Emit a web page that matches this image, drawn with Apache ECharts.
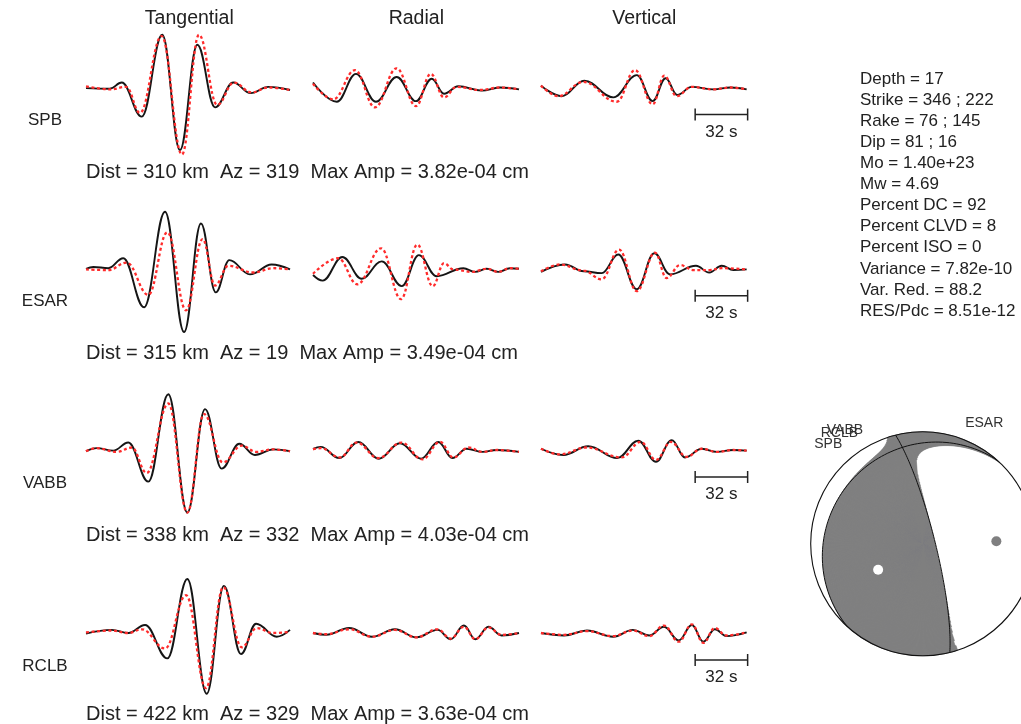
<!DOCTYPE html>
<html>
<head>
<meta charset="utf-8">
<script src="https://cdn.jsdelivr.net/npm/echarts@6/dist/echarts.min.js"></script>
<style>
  html, body { margin: 0; padding: 0; background: #fff; }
  #chart { width: 1021px; height: 724px; }
</style>
</head>
<body>
<div id="chart"></div>
<script>
// ---------------------------------------------------------------------------
// Station metadata
const components = ['Tangential', 'Radial', 'Vertical'];
const stations = ['SPB', 'ESAR', 'VABB', 'RCLB'];
const distKm = [310, 315, 338, 422];
const azimuthDeg = [319, 19, 332, 329];
const maxAmp = ['3.82e-04', '3.49e-04', '4.03e-04', '3.63e-04'];
const scaleBarSeconds = 32;

// Waveform extrema: [time (s), amplitude / station max amplitude]
// "Obs" = recorded data, "Syn" = synthetic from the inverted mechanism
const spbTanObs = [[0,-0.01],[14.5,-0.02],[21.8,0.08],[34,-0.47],[46.5,0.85],[57.3,-1.01],[67.9,0.69],[78.7,-0.32],[89.8,0.08],[100.4,-0.09],[111.2,0.01],[124.4,-0.04]];
const spbTanSyn = [[0,0.02],[15,-0.03],[24.5,0.01],[32.9,-0.41],[46.1,0.83],[58.5,-1.08],[68.9,0.85],[80,-0.28],[90.2,0.08],[101,-0.08],[111,0.0],[124.4,-0.04]];
const spbRadObs = [[0,0.08],[14.5,-0.23],[26.2,0.22],[38.4,-0.23],[51,0.17],[62.8,-0.22],[72.4,0.14],[79.9,-0.10],[88.6,0.02],[102.9,-0.05],[114,0.0],[125.6,-0.03]];
const spbRadSyn = [[0,0.06],[12.4,-0.19],[25.6,0.28],[37.8,-0.32],[51,0.31],[62.8,-0.30],[71.8,0.22],[79.9,-0.16],[87.6,0.01],[101.8,-0.04],[114,0.0],[125.6,-0.03]];
const spbVerObs = [[0,0.03],[12.6,-0.14],[26.4,0.11],[44.1,-0.16],[58.4,0.20],[68.1,-0.22],[76,0.15],[83.1,-0.12],[91.9,0.01],[105.1,-0.03],[115.7,0.0],[125.4,-0.03]];
const spbVerSyn = [[0,0.03],[10.6,-0.14],[25.8,0.09],[46.2,-0.23],[57.3,0.28],[68.1,-0.27],[75.2,0.19],[82.7,-0.14],[91.9,0.01],[105.1,-0.03],[115.7,0.0],[125.4,-0.03]];

const esarTanObs = [[0,0.0],[4.5,0.03],[13.6,0.01],[22.7,0.17],[35.4,-0.62],[48.2,0.92],[59.8,-1.02],[70.1,0.73],[79.1,-0.38],[87.4,0.14],[100,-0.09],[113.2,0.07],[124.4,-0.01]];
const esarTanSyn = [[0,-0.01],[13.6,-0.02],[24.8,0.10],[38,-0.42],[49.6,0.59],[61,-0.67],[71.1,0.48],[78.7,-0.27],[86.8,0.05],[102,-0.06],[114.2,0.01],[124.4,-0.01]];
const esarRadObs = [[0,-0.10],[5.9,-0.19],[17.9,0.19],[29.7,-0.16],[41.9,0.12],[54.1,-0.28],[64.6,0.22],[75.4,-0.12],[91.7,0.01],[98.8,-0.05],[105.9,0.0],[113,-0.05],[120.1,0.01],[125.6,0.0]];
const esarRadSyn = [[0,-0.08],[15.4,0.17],[27,-0.25],[41.5,0.33],[53.7,-0.49],[63.6,0.39],[73,-0.28],[79.9,0.09],[85.6,-0.01],[96.8,-0.05],[105.9,0.0],[113,-0.05],[120.1,0.01],[125.6,0.0]];
const esarVerObs = [[0,-0.05],[14.6,0.07],[26,-0.04],[37,-0.07],[47.1,0.23],[58.4,-0.33],[69.1,0.25],[78.7,-0.09],[94.5,0.05],[102.6,-0.06],[110.2,0.05],[117.3,-0.02],[125.4,-0.01]];
const esarVerSyn = [[0,-0.04],[11.6,0.07],[26,-0.03],[37,-0.17],[47.6,0.31],[58.4,-0.36],[69.5,0.26],[76.6,-0.15],[84.8,0.06],[93,-0.02],[102.6,-0.02],[110.2,0.01],[125.4,-0.01]];

const vabbTanObs = [[0,-0.02],[6.5,0.03],[16.6,-0.01],[25.8,0.12],[38,-0.51],[50.2,0.90],[61.8,-1.01],[72.6,0.66],[82.7,-0.30],[93.5,0.10],[103,-0.08],[114.2,0.01],[124.4,-0.02]];
const vabbTanSyn = [[0,-0.02],[6.5,0.03],[18.7,-0.03],[27.9,0.04],[37,-0.37],[50.2,0.75],[61.8,-1.01],[72,0.58],[83.4,-0.20],[95,0.07],[103.8,-0.03],[114.2,0.01],[124.4,-0.02]];
const vabbRadObs = [[0,0.02],[4.7,0.05],[16,-0.13],[27.6,0.13],[40.2,-0.14],[53,0.11],[65.9,-0.14],[76.4,0.13],[85,-0.13],[93.7,0.02],[103.5,-0.03],[112,0.0],[125.6,-0.03]];
const vabbRadSyn = [[0,0.01],[4.7,0.03],[16.4,-0.12],[26.6,0.12],[39.8,-0.13],[53.9,0.12],[66.7,-0.15],[77.4,0.13],[85.6,-0.12],[94.7,0.04],[103.5,-0.03],[112,0.0],[125.6,-0.03]];
const vabbVerObs = [[0,0.02],[13.6,-0.08],[28.8,0.06],[46.5,-0.13],[59.3,0.15],[70.1,-0.19],[79.7,0.16],[87.8,-0.12],[98,0.02],[107.1,-0.03],[117.3,0.0],[125.4,-0.01]];
const vabbVerSyn = [[0,0.02],[11.6,-0.07],[27.8,0.04],[49.2,-0.12],[60.8,0.13],[70.1,-0.16],[79.2,0.13],[88.8,-0.11],[98,0.02],[107.1,-0.03],[117.3,0.0],[125.4,-0.01]];

const rclbTanObs = [[0,-0.01],[15.7,0.05],[25.8,0.0],[36,0.13],[49.6,-0.41],[61.8,0.87],[73.6,-0.98],[84.1,0.76],[94.5,-0.34],[103.7,0.15],[116.3,-0.06],[124.4,0.05]];
const rclbTanSyn = [[0,0.01],[15.7,0.04],[25.8,0.0],[34,0.06],[48.2,-0.25],[61,0.61],[73.2,-0.89],[83.7,0.74],[95,-0.23],[104.1,0.08],[114,0.0],[124.4,0.02]];
const rclbRadObs = [[0,0.0],[8,-0.03],[22,0.08],[36,-0.06],[50,0.06],[63,-0.07],[76,0.05],[84,-0.10],[92,0.12],[99,-0.10],[107,0.10],[115,-0.04],[125.6,0.0]];
const rclbRadSyn = [[0,0.0],[8,-0.02],[22,0.06],[36,-0.06],[50,0.05],[63,-0.07],[76,0.06],[84,-0.09],[92,0.10],[99,-0.10],[107,0.09],[115,-0.03],[125.6,0.0]];
const rclbVerObs = [[0,0.0],[14,-0.04],[28,0.04],[44,-0.06],[56,0.05],[66,-0.04],[75,0.10],[84,-0.12],[92,0.13],[99,-0.14],[106,0.06],[113,-0.05],[125.4,0.01]];
const rclbVerSyn = [[0,0.0],[14,-0.03],[28,0.03],[44,-0.05],[56,0.04],[66,-0.05],[75,0.12],[84,-0.14],[92,0.14],[99,-0.16],[106,0.08],[113,-0.04],[125.4,0.01]];

// Inversion summary
const solutionLabels = ['Depth', 'Strike', 'Rake', 'Dip', 'Mo', 'Mw', 'Percent DC', 'Percent CLVD',
  'Percent ISO', 'Variance', 'Var. Red.', 'RES/Pdc'];
const solutionValues = ['17', '346 ; 222', '76 ; 145', '81 ; 16', '1.40e+23', '4.69', '92', '8',
  '0', '7.82e-10', '88.2', '8.51e-12'];

// Nodal planes (plane 1 ; plane 2)
const nodalStrike = [346, 222];
const nodalRake = [76, 145];
const nodalDip = [81, 16];
const percentCLVD = 8;

// ---------------------------------------------------------------------------
const traceTable = {
  SPB:  [[spbTanObs, spbTanSyn], [spbRadObs, spbRadSyn], [spbVerObs, spbVerSyn]],
  ESAR: [[esarTanObs, esarTanSyn], [esarRadObs, esarRadSyn], [esarVerObs, esarVerSyn]],
  VABB: [[vabbTanObs, vabbTanSyn], [vabbRadObs, vabbRadSyn], [vabbVerObs, vabbVerSyn]],
  RCLB: [[rclbTanObs, rclbTanSyn], [rclbRadObs, rclbRadSyn], [rclbVerObs, rclbVerSyn]]
};

// Layout
const FONT = '"Liberation Sans", Arial, Helvetica, sans-serif';
const INK = '#222';
const CANVAS_W = 1021;
const PX_PER_S = 1.64;
const TRACE_SPAN = 126;
const PX_PER_AMP = 62;
const AMP_HALF = 1.25;
const colLeft = [86, 313, 541];
const rowBase = [87.5, 268.8, 450, 633];
const distY = [172, 353, 535, 714];
const BB = { cx: 922.7, cy: 543.8, r: 112 };

const grids = [], xAxes = [], yAxes = [], series = [];

stations.forEach((st, r) => {
  components.forEach((comp, c) => {
    const gi = grids.length;
    grids.push({
      left: colLeft[c], top: rowBase[r] - AMP_HALF * PX_PER_AMP,
      width: TRACE_SPAN * PX_PER_S, height: 2 * AMP_HALF * PX_PER_AMP
    });
    xAxes.push({ type: 'value', gridIndex: gi, min: 0, max: TRACE_SPAN, show: false });
    yAxes.push({ type: 'value', gridIndex: gi, min: -AMP_HALF, max: AMP_HALF, show: false });
    const [obs, syn] = traceTable[st][c];
    const common = {
      type: 'line', xAxisIndex: gi, yAxisIndex: gi, symbol: 'none',
      smooth: 0.4, smoothMonotone: 'x', silent: true, clip: false
    };
    series.push(Object.assign({}, common, {
      name: st + ' ' + comp + ' data', data: obs, z: 2,
      lineStyle: { color: '#151515', width: 1.9 }
    }));
    series.push(Object.assign({}, common, {
      name: st + ' ' + comp + ' synthetic', data: syn, z: 3,
      lineStyle: { color: '#ff2b2b', width: 2.3, type: [3, 2.6], cap: 'butt' }
    }));
    if (c === 2) {
      // time scale bar under the vertical component
      series.push({
        type: 'custom', xAxisIndex: gi, yAxisIndex: gi, silent: true, clip: false, z: 4,
        data: [[TRACE_SPAN - scaleBarSeconds, TRACE_SPAN]],
        renderItem: (params, api) => {
          const yAmp = -27 / PX_PER_AMP;
          const p0 = api.coord([api.value(0), yAmp]);
          const p1 = api.coord([api.value(1), yAmp]);
          const st = { stroke: INK, lineWidth: 1.5 };
          return {
            type: 'group',
            children: [
              { type: 'line', shape: { x1: p0[0], y1: p0[1], x2: p1[0], y2: p1[1] }, style: st },
              { type: 'line', shape: { x1: p0[0], y1: p0[1] - 6, x2: p0[0], y2: p0[1] + 6 }, style: st },
              { type: 'line', shape: { x1: p1[0], y1: p1[1] - 6, x2: p1[0], y2: p1[1] + 6 }, style: st },
              { type: 'text', style: {
                  text: scaleBarSeconds + ' s', x: (p0[0] + p1[0]) / 2, y: p0[1] + 17.5,
                  align: 'center', verticalAlign: 'middle', fill: INK, fontSize: 17, fontFamily: FONT } }
            ]
          };
        }
      });
    }
  });
});

// ---------------------------------------------------------------------------
// Focal mechanism (lower hemisphere, equal-area)
const D2R = Math.PI / 180;
function norm(v) { const l = Math.hypot(v[0], v[1], v[2]); return v.map(x => x / l); }
function cross(a, b) { return [a[1]*b[2]-a[2]*b[1], a[2]*b[0]-a[0]*b[2], a[0]*b[1]-a[1]*b[0]]; }

// fault normal and slip vector in (North, East, Down)
const fs = nodalStrike[0] * D2R, fd = nodalDip[0] * D2R, fr = nodalRake[0] * D2R;
const nVec = [-Math.sin(fd) * Math.sin(fs), Math.sin(fd) * Math.cos(fs), -Math.cos(fd)];
const sVec = [Math.cos(fr) * Math.cos(fs) + Math.cos(fd) * Math.sin(fr) * Math.sin(fs),
              Math.cos(fr) * Math.sin(fs) - Math.cos(fd) * Math.sin(fr) * Math.cos(fs),
              -Math.sin(fr) * Math.sin(fd)];
const tAxis = norm([nVec[0] + sVec[0], nVec[1] + sVec[1], nVec[2] + sVec[2]]);
const pAxis = norm([nVec[0] - sVec[0], nVec[1] - sVec[1], nVec[2] - sVec[2]]);
const bAxis = norm(cross(nVec, sVec));
// deviatoric eigenvalues with the CLVD share on the null axis
const eps = percentCLVD / 200;
const lamT = 1, lamB = eps / (1 - eps), lamP = -(lamT + lamB);
const M = [[0,0,0],[0,0,0],[0,0,0]];
[[lamT, tAxis], [lamB, bAxis], [lamP, pAxis]].forEach(([lam, a]) => {
  for (let i = 0; i < 3; i++) for (let j = 0; j < 3; j++) M[i][j] += lam * a[i] * a[j];
});
function radiation(azDeg, rho) {
  const D = 1 - rho * rho;
  const h = Math.sqrt(Math.max(0, 1 - D * D));
  const a = azDeg * D2R;
  const v = [h * Math.cos(a), h * Math.sin(a), D];
  let u = 0;
  for (let i = 0; i < 3; i++) for (let j = 0; j < 3; j++) u += v[i] * M[i][j] * v[j];
  return u;
}
function project(v) {
  const s = v[2] < 0 ? -1 : 1;
  const N = v[0] * s, E = v[1] * s, Dn = v[2] * s;
  const k = 1 / Math.sqrt(1 + Dn);
  return [E * k, N * k];
}

// compressional wedges: [azimuth, rho start, rho end]
const NA = 720, NR = 240;
const wedges = [];
for (let i = 0; i < NA; i++) {
  const az = (i + 0.5) * 360 / NA;
  let inside = radiation(az, 0) > 0, start = 0;
  for (let j = 1; j <= NR; j++) {
    const rho = j / NR;
    const pos = radiation(az, rho) > 0;
    if (pos !== inside) {
      let lo = (j - 1) / NR, hi = rho;
      for (let k = 0; k < 18; k++) {
        const mid = (lo + hi) / 2;
        if ((radiation(az, mid) > 0) === inside) lo = mid; else hi = mid;
      }
      const edge = (lo + hi) / 2;
      if (inside) wedges.push([az, start, edge]); else start = edge;
      inside = pos;
    }
  }
  if (inside) wedges.push([az, start, 1]);
}

function planeCurve(strike, dip) {
  const f = strike * D2R, d = dip * D2R;
  const sv = [Math.cos(f), Math.sin(f), 0];
  const dv = [Math.cos(d) * Math.cos(f + Math.PI / 2), Math.cos(d) * Math.sin(f + Math.PI / 2), Math.sin(d)];
  const pts = [];
  for (let t = 0; t <= 180; t += 1) {
    const c = Math.cos(t * D2R), s = Math.sin(t * D2R);
    pts.push(project([c * sv[0] + s * dv[0], c * sv[1] + s * dv[1], c * sv[2] + s * dv[2]]));
  }
  return pts;
}

// the sphere runs past the right edge of the page, so the grid stops at the edge
const bbGrid = grids.length;
const bbLeft = BB.cx - BB.r;
const bbWidth = CANVAS_W - bbLeft;
grids.push({ left: bbLeft, top: BB.cy - BB.r, width: bbWidth, height: 2 * BB.r });
xAxes.push({ type: 'value', gridIndex: bbGrid, min: -1, max: -1 + bbWidth / BB.r, show: false });
yAxes.push({ type: 'value', gridIndex: bbGrid, min: -1, max: 1, show: false });

const GRAY = '#7f7f80';
series.push({
  name: 'compression', type: 'custom', xAxisIndex: bbGrid, yAxisIndex: bbGrid,
  silent: true, clip: false, z: 1, data: wedges,
  renderItem: (params, api) => {
    const az = api.value(0), r0 = api.value(1), r1 = api.value(2);
    const half = 180 / NA * 1.6;
    const pt = (a, r) => api.coord([r * Math.sin(a * D2R), r * Math.cos(a * D2R)]);
    return {
      type: 'polygon',
      shape: { points: [pt(az - half, r0), pt(az - half, r1), pt(az + half, r1), pt(az + half, r0)] },
      style: { fill: GRAY, stroke: GRAY, lineWidth: 0.6 }
    };
  }
});
series.push({
  name: 'outline', type: 'custom', xAxisIndex: bbGrid, yAxisIndex: bbGrid,
  silent: true, clip: false, z: 3, data: [[0, 0]],
  renderItem: (params, api) => {
    const c = api.coord([0, 0]), e = api.coord([0, 1]);
    return { type: 'circle', shape: { cx: c[0], cy: c[1], r: c[1] - e[1] },
             style: { fill: 'none', stroke: '#111', lineWidth: 1.1 } };
  }
});
[0, 1].forEach(k => {
  series.push({
    name: 'nodal plane ' + (k + 1), type: 'line', xAxisIndex: bbGrid, yAxisIndex: bbGrid,
    data: planeCurve(nodalStrike[k], nodalDip[k]), symbol: 'none', silent: true, z: 3, clip: false,
    lineStyle: { color: '#111', width: 1 }
  });
});
series.push({
  name: 'T axis', type: 'scatter', xAxisIndex: bbGrid, yAxisIndex: bbGrid, silent: true, z: 4,
  data: [project(tAxis)], symbolSize: 10, itemStyle: { color: '#fff', opacity: 1 }
});
series.push({
  name: 'P axis', type: 'scatter', xAxisIndex: bbGrid, yAxisIndex: bbGrid, silent: true, z: 4,
  data: [project(pAxis)], symbolSize: 10, itemStyle: { color: GRAY, opacity: 1 }
});
series.push({
  name: 'station azimuths', type: 'custom', xAxisIndex: bbGrid, yAxisIndex: bbGrid,
  silent: true, clip: false, z: 5,
  data: azimuthDeg.map((az, i) => [Math.sin(az * D2R), Math.cos(az * D2R), i]),
  renderItem: (params, api) => {
    const p = api.coord([api.value(0), api.value(1)]);
    const left = api.value(0) < 0;
    return {
      type: 'text',
      style: {
        text: stations[api.value(2)], x: p[0] + (left ? -7 : 6), y: p[1] - 15,
        align: left ? 'right' : 'left', verticalAlign: 'middle',
        fill: '#333', fontSize: 14, fontFamily: FONT
      }
    };
  }
});

// ---------------------------------------------------------------------------
// Text annotations
const graphics = [];
components.forEach((comp, c) => {
  graphics.push({ type: 'text', x: colLeft[c] + TRACE_SPAN * PX_PER_S / 2, y: 19, silent: true,
    style: { text: comp, align: 'center', verticalAlign: 'middle', textAlign: 'center', textVerticalAlign: 'middle',
             fill: INK, fontSize: 19.5, fontFamily: FONT } });
});
stations.forEach((st, r) => {
  graphics.push({ type: 'text', x: 45, y: rowBase[r] + 33, silent: true,
    style: { text: st, align: 'center', verticalAlign: 'middle', textAlign: 'center', textVerticalAlign: 'middle',
             fill: INK, fontSize: 17, fontFamily: FONT } });
  graphics.push({ type: 'text', x: 86, y: distY[r], silent: true,
    style: { text: 'Dist = ' + distKm[r] + ' km\u00a0 Az = ' + azimuthDeg[r] + '\u00a0 Max Amp = ' + maxAmp[r] + ' cm',
             align: 'left', verticalAlign: 'middle', textAlign: 'left', textVerticalAlign: 'middle',
             fill: INK, fontSize: 20, fontFamily: FONT } });
});
solutionLabels.forEach((lab, i) => {
  graphics.push({ type: 'text', x: 860, y: 79 + 21.1 * i, silent: true,
    style: { text: lab + ' = ' + solutionValues[i], align: 'left', verticalAlign: 'middle',
             textAlign: 'left', textVerticalAlign: 'middle', fill: INK, fontSize: 17, fontFamily: FONT } });
});

const chart = echarts.init(document.getElementById('chart'), null, { renderer: 'canvas' });
chart.setOption({
  animation: false,
  backgroundColor: '#fff',
  grid: grids,
  xAxis: xAxes,
  yAxis: yAxes,
  series: series,
  graphic: graphics
});
</script>
</body>
</html>
